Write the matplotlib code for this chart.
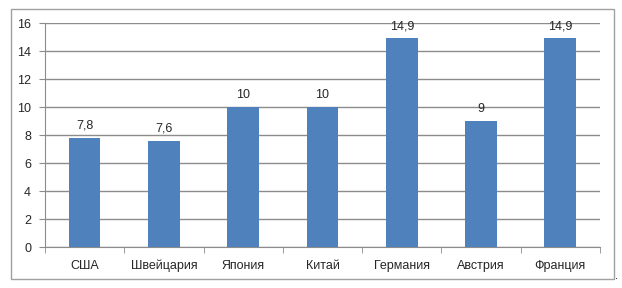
import numpy as np
import matplotlib.pyplot as plt
from matplotlib.patches import Rectangle

countries = ['США', 'Швейцария', 'Япония', 'Китай', 'Германия', 'Австрия', 'Франция']
values = [7.8, 7.6, 10, 10, 14.9, 9, 14.9]
labels = ['7,8', '7,6', '10', '10', '14,9', '9', '14,9']

W, H = 622, 288
plt.rcParams['font.family'] = ['Liberation Sans', 'DejaVu Sans']
fig = plt.figure(figsize=(W / 100, H / 100), dpi=100)
fig.patch.set_facecolor('white')

# outer chart frame
fig.patches.append(Rectangle((11 / W, 1 - 279 / H), (614 - 11) / W, (279 - 9) / H,
                             transform=fig.transFigure, fill=False,
                             edgecolor='#a0a0a0', linewidth=1))
fig.text(617 / W, 1 - 281 / H, '.', fontsize=8, ha='center', va='bottom')

ax = fig.add_axes([45 / W, 1 - 247 / H, (600 - 45) / W, (247 - 23) / H])
x = np.arange(len(countries))
ax.bar(x, values, width=0.4, color='#4f81bd', zorder=3)
for xi, v, lab in zip(x, values, labels):
    ax.text(xi, v + 0.45, lab, ha='center', va='bottom', fontsize=9, color='#262626')

ax.set_xlim(-0.5, len(countries) - 0.5)
ax.set_ylim(0, 16)
ax.set_yticks(range(0, 17, 2))
ax.yaxis.grid(True, color='#8c8c8c', linewidth=1, zorder=0)

ax.set_xticks(x)
ax.set_xticklabels(countries, fontsize=9, color='#262626', va='baseline')
ax.set_xticks(np.arange(-0.5, len(countries)), minor=True)
ax.tick_params(axis='x', which='major', length=0, pad=16)
ax.tick_params(axis='x', which='minor', length=4, color='#8c8c8c')
ax.tick_params(axis='y', length=4, color='#8c8c8c', labelsize=9, labelcolor='#262626', pad=6)

for s in ['top', 'right']:
    ax.spines[s].set_visible(False)
ax.spines['left'].set_color('#8c8c8c')
ax.spines['bottom'].set_color('#8c8c8c')

fig.savefig('out.png', dpi=100)
